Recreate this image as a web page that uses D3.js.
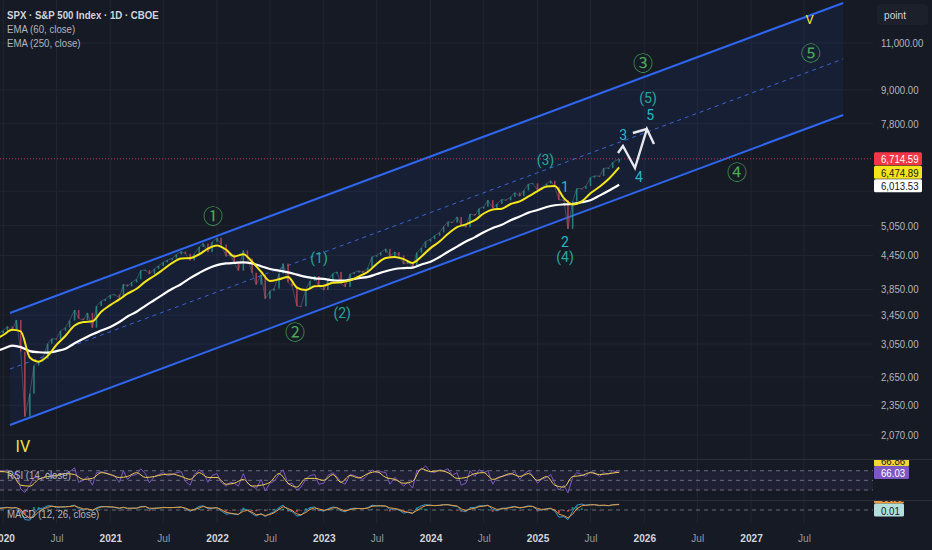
<!DOCTYPE html>
<html>
<head>
<meta charset="utf-8">
<script src="https://cdn.jsdelivr.net/npm/d3@7"></script>
<style>
  html, body { margin: 0; padding: 0; background: #161a25; overflow: hidden; }
  svg { display: block; font-family: "Liberation Sans", Arial, sans-serif; }
</style>
</head>
<body>
<svg id="chart"></svg>
<script>
// ---- data ----

// semi-monthly closes: 2019-12-16, then 1st & 15th of each month 2020-01 .. 2025-09, last 2025-10-07
let closes = [
  3191,
  3231, 3289, 3225, 3380, 2954, 2240, 2470, 2783, 2830, 2863, 3055, 3120,
  3115, 3226, 3271, 3372, 3526, 3401, 3380, 3483, 3270, 3585, 3662, 3694,
  3756, 3768, 3714, 3934, 3901, 3968, 4019, 4170, 4181, 4112, 4202, 4255,
  4320, 4360, 4395, 4468, 4524, 4480, 4357, 4471, 4613, 4682, 4513, 4709,
  4796, 4662, 4432, 4471, 4306, 4170, 4545, 4392, 4131, 3930, 4101, 3700,
  3825, 3863, 4118, 4297, 3966, 3901, 3585, 3583, 3856, 3991, 4076, 3895,
  3839, 3999, 4119, 4147, 3951, 3891, 4109, 4137, 4167, 4136, 4221, 4425,
  4450, 4505, 4576, 4437, 4515, 4450, 4288, 4327, 4237, 4502, 4594, 4719,
  4770, 4840, 4906, 5030, 5137, 5117, 5243, 5061, 5018, 5308, 5278, 5431,
  5475, 5631, 5446, 5543, 5648, 5626, 5708, 5815, 5728, 5870, 6032, 6051,
  5882, 5949, 6040, 6115, 5954, 5638, 5633, 4982, 5604, 5916, 5912, 5977,
  6198, 6243, 6238, 6449, 6460, 6615,
  6714.59
];

let rsi = [
  70,
  68, 72, 52, 68, 32, 25, 40, 56, 55, 52, 66, 55,
  58, 62, 64, 68, 76, 46, 50, 58, 40, 66, 68, 66,
  62, 60, 46, 70, 52, 60, 62, 74, 64, 45, 58, 62,
  66, 60, 62, 66, 68, 48, 40, 62, 72, 66, 46, 60,
  64, 46, 38, 46, 44, 38, 64, 44, 38, 33, 52, 28,
  44, 48, 62, 72, 42, 44, 30, 36, 52, 60, 62, 42,
  44, 60, 66, 58, 46, 42, 62, 60, 56, 52, 62, 72,
  66, 68, 66, 42, 56, 48, 38, 46, 34, 70, 72, 80,
  68, 66, 72, 70, 74, 60, 66, 40, 44, 70, 58, 72,
  66, 70, 42, 56, 58, 60, 62, 68, 52, 62, 70, 60,
  44, 52, 56, 62, 44, 30, 40, 24, 56, 66, 62, 58,
  68, 66, 58, 66, 62, 70,
  66.03
];

let macd = [
  30,
  40, 45, 30, 40, -30, -160, -170, -60, 20, 30, 70, 70,
  40, 50, 55, 60, 80, 20, 0, 20, -20, 40, 60, 55,
  50, 45, 20, 50, 20, 30, 30, 60, 60, 10, 30, 35,
  45, 40, 40, 45, 50, 20, -20, 10, 60, 70, 20, 30,
  40, -10, -70, -60, -70, -80, 20, 0, -60, -100, -60, -110,
  -60, -30, 40, 80, 0, -30, -100, -90, -10, 40, 50, 0,
  -20, 20, 50, 40, -10, -30, 20, 30, 25, 20, 40, 80,
  70, 70, 65, 10, 20, 0, -50, -40, -60, 30, 70, 90,
  80, 70, 80, 90, 90, 70, 60, -10, -30, 40, 40, 70,
  70, 80, 10, -10, 30, 30, 50, 60, 30, 50, 70, 60,
  0, 0, 20, 30, -20, -120, -110, -160, -20, 80, 100, 80,
  90, 90, 70, 80, 70, 90,
  95
];

let signal = [
  25,
  32, 40, 36, 38, 10, -80, -140, -110, -30, 10, 45, 62,
  55, 50, 52, 58, 70, 45, 18, 18, 0, 25, 50, 55,
  52, 48, 32, 42, 30, 30, 30, 48, 56, 30, 28, 32,
  40, 40, 40, 43, 47, 32, 0, 2, 35, 60, 38, 32,
  36, 10, -40, -52, -62, -72, -20, -8, -38, -78, -70, -92,
  -75, -48, 10, 55, 25, -10, -65, -80, -40, 10, 35, 18,
  -5, 5, 35, 38, 10, -15, 5, 22, 24, 22, 32, 62,
  68, 70, 66, 35, 25, 10, -25, -35, -50, -10, 40, 72,
  78, 74, 77, 85, 88, 78, 66, 20, -10, 15, 30, 55,
  65, 75, 40, 10, 20, 26, 40, 52, 40, 45, 60, 60,
  25, 10, 15, 25, 0, -70, -95, -130, -70, 20, 70, 78,
  85, 88, 78, 80, 74, 84,
  90
];

// monthly (1st of month) 2019-12 .. 2025-09, last 2025-10-07
let ema60 = [
  3100,
  3170, 3240, 3220, 2880, 2830, 2900, 3040, 3160, 3300, 3350, 3360, 3500,
  3600, 3690, 3780, 3860, 3980, 4080, 4190, 4310, 4390, 4400, 4470, 4580,
  4640, 4560, 4430, 4470, 4330, 4150, 3990, 4020, 4060, 3880, 3840, 3900,
  3910, 3960, 3970, 4000, 4070, 4150, 4290, 4400, 4420, 4380, 4310, 4430,
  4590, 4720, 4880, 5020, 5080, 5170, 5320, 5410, 5430, 5540, 5600, 5720,
  5850, 5970, 5980, 5680, 5530, 5600, 5800, 5960, 6160,
  6474.89
];

let ema250 = [
  2950,
  2990, 3030, 3010, 2960, 2945, 2940, 2960, 2990, 3060, 3120, 3180, 3230,
  3280, 3350, 3430, 3500, 3590, 3680, 3770, 3860, 3940, 4040, 4130, 4210,
  4270, 4300, 4310, 4320, 4300, 4250, 4200, 4170, 4140, 4100, 4060, 4035,
  4026, 4000, 3995, 4010, 4040, 4060, 4110, 4160, 4200, 4215, 4225, 4280,
  4330, 4420, 4520, 4620, 4720, 4810, 4910, 5000, 5070, 5170, 5250, 5340,
  5400, 5470, 5510, 5530, 5540, 5580, 5630, 5740, 5860,
  6013.53
];

let rsiMA = [
  68,
  68, 62, 40, 38, 52, 58, 60, 64, 62, 52, 54, 66,
  62, 56, 58, 66, 56, 58, 62, 63, 58, 52, 66, 56,
  56, 42, 44, 52, 38, 40, 46, 64, 44, 36, 54, 54,
  50, 62, 46, 60, 55, 64, 68, 56, 52, 44, 48, 74,
  68, 70, 66, 54, 56, 64, 66, 52, 58, 64, 58, 64,
  50, 58, 40, 36, 58, 60, 66, 62, 64,
  66.86
];

// price channel (two anchor points)
let channelDates = ['2020-01-24', '2027-11-12'];
let channelUpper = [3482, 13044];
let channelMid = [2742, 10275];
let channelLower = [2160, 8094];

// projected path (white zigzag)
let projDates = ['2025-10-03', '2025-10-20', '2025-11-30', '2026-01-10', '2026-02-03'];
let projPrices = [6884, 7093, 6458, 7625, 7153];
let projWingDates = ['2025-11-23', '2026-01-10'];
let projWingPrices = [7497, 7625];

// Elliott wave labels
let waveText = ['\u2460', '\u2461', '\u2462', '\u2463', '\u2464',
                '(1)', '(2)', '(3)', '(4)', '(5)',
                '1', '2', '3', '4', '5', 'IV', 'V'];
let waveDates = ['2021-12-18', '2022-09-25', '2025-12-28', '2026-11-14', '2027-07-24',
                 '2022-12-16', '2023-03-05', '2025-01-28', '2025-04-05', '2026-01-14',
                 '2025-04-05', '2025-04-05', '2025-10-21', '2025-12-14', '2026-01-21',
                 '2020-03-08', '2027-07-20'];
let wavePrices = [5285, 3224, 10101, 6349, 10541,
                  4401, 3482, 6683, 4420, 8702,
                  5955, 4711, 7433, 6215, 8094,
                  1975, 12133];
let waveDegree = ['primary', 'primary', 'primary', 'primary', 'primary',
                  'intermediate', 'intermediate', 'intermediate', 'intermediate', 'intermediate',
                  'minor', 'minor', 'minor', 'minor', 'minor',
                  'cycle', 'cycle'];

// axes
let yTicks = [2070, 2350, 2650, 3050, 3450, 3850, 4450, 5050, 7800, 9000, 11000];
let yGridExtra = [5850];
let xTicks = ['2020-01-01', '2020-07-01', '2021-01-01', '2021-07-01', '2022-01-01', '2022-07-01',
              '2023-01-01', '2023-07-01', '2024-01-01', '2024-07-01', '2025-01-01', '2025-07-01',
              '2026-01-01', '2026-07-01', '2027-01-01', '2027-07-01'];

let macdReadout = ['0.01'];

// ---- layout ----
let width = 932;
let height = 550;
let plotRight = 873;
let mainBottom = 459;
let rsiTop = 460, rsiBottom = 500;
let macdTop = 501, macdBottom = 523;
let uiSize = '10.5px';
let squeeze = 0.92; // narrow look of the original UI font

const parse = d3.timeParse('%Y-%m-%d');
const fmt = d3.format(',.2f');

let svg = d3.select('#chart').attr('width', width).attr('height', height);

let xScale, yScale, rsiScale, macdScale;

// squeeze text horizontally
const condense = (sel, k) => sel.each(function () {
  let len = this.getComputedTextLength();
  d3.select(this).attr('textLength', len * k).attr('lengthAdjust', 'spacingAndGlyphs');
});

// date grids for the series
const halfMonthGrid = () => {
  let out = [new Date(2019, 11, 16)];
  for (let m = new Date(2020, 0, 1); m < new Date(2025, 9, 1); m = d3.timeMonth.offset(m, 1)) {
    out.push(new Date(m.getFullYear(), m.getMonth(), 1));
    out.push(new Date(m.getFullYear(), m.getMonth(), 15));
  }
  out.push(new Date(2025, 9, 7));
  return out;
};

const monthGrid = () => {
  let out = d3.timeMonth.range(new Date(2019, 11, 1), new Date(2025, 9, 1));
  out.push(new Date(2025, 9, 7));
  return out;
};

let halfDates = halfMonthGrid();
let monthDates = monthGrid();

const generateScales = () => {
  xScale = d3.scaleTime()
             .domain([parse('2019-12-21'), parse('2028-02-22')])
             .range([0, plotRight]);
  yScale = d3.scaleLog()
             .domain([1869, 13211])
             .range([mainBottom, 0]);
  rsiScale = d3.scaleLinear()
               .domain([30, 70])
               .range([490, 470.7]);
  macdScale = d3.scaleLinear()
                .domain([-200, 150])
                .range([522, 501]);
};

const drawCanvas = () => {
  svg.append('rect').attr('width', width).attr('height', height).attr('fill', '#161a25');
  let defs = svg.append('defs');
  const addClip = (id, top, bottom) => {
    defs.append('clipPath').attr('id', id).append('rect')
        .attr('x', 0).attr('y', top).attr('width', width).attr('height', bottom - top);
  };
  addClip('clipMain', 0, mainBottom);
  addClip('clipRsi', rsiTop, rsiBottom);
  addClip('clipMacd', macdTop, macdBottom);
};

const drawGrid = () => {
  let g = svg.append('g').attr('class', 'grid');
  g.selectAll('.hgrid')
   .data(yTicks.concat(yGridExtra))
   .enter()
   .append('line')
   .attr('x1', 0).attr('x2', plotRight)
   .attr('y1', d => yScale(d)).attr('y2', d => yScale(d))
   .attr('stroke', '#222633').attr('stroke-width', 1);
  g.selectAll('.vgrid')
   .data(xTicks)
   .enter()
   .append('line')
   .attr('x1', d => xScale(parse(d))).attr('x2', d => xScale(parse(d)))
   .attr('y1', 0).attr('y2', macdBottom)
   .attr('stroke', '#222633').attr('stroke-width', 1);
};

const drawChannel = () => {
  let chan = channelDates.map((d, i) => ({
    date: parse(d), upper: channelUpper[i], mid: channelMid[i], lower: channelLower[i]
  }));
  let g = svg.append('g').attr('clip-path', 'url(#clipMain)');

  g.append('path')
   .datum(chan)
   .attr('d', d3.area().x(d => xScale(d.date)).y0(d => yScale(d.lower)).y1(d => yScale(d.upper)))
   .attr('fill', 'rgba(41, 98, 255, 0.07)');

  const line = key => d3.line().x(d => xScale(d.date)).y(d => yScale(d[key]));
  g.append('path').datum(chan).attr('d', line('upper'))
   .attr('fill', 'none').attr('stroke', '#2f66f0').attr('stroke-width', 2);
  g.append('path').datum(chan).attr('d', line('lower'))
   .attr('fill', 'none').attr('stroke', '#2f66f0').attr('stroke-width', 2);
  g.append('path').datum(chan).attr('d', line('mid'))
   .attr('fill', 'none').attr('stroke', '#3a63d8').attr('stroke-width', 1)
   .attr('stroke-dasharray', '4,4');
};

const drawPrice = () => {
  let last = closes[closes.length - 1];
  let g = svg.append('g').attr('clip-path', 'url(#clipMain)');

  // dotted last price line
  g.append('line')
   .attr('x1', 0).attr('x2', plotRight)
   .attr('y1', yScale(last)).attr('y2', yScale(last))
   .attr('stroke', '#c2385a').attr('stroke-width', 1)
   .attr('stroke-dasharray', '1,2');

  let bars = closes.map((c, i) => ({
    date: halfDates[i], open: i === 0 ? c : closes[i - 1], close: c
  }));

  g.append('path')
   .datum(bars)
   .attr('d', d3.line().x(d => xScale(d.date)).y(d => yScale(d.close)))
   .attr('fill', 'none').attr('stroke', '#4d6470').attr('stroke-width', 1).attr('opacity', 0.7);

  g.selectAll('.candle')
   .data(bars)
   .enter()
   .append('rect')
   .attr('x', d => xScale(d.date) - 0.8)
   .attr('width', 1.6)
   .attr('y', d => yScale(Math.max(d.open, d.close)))
   .attr('height', d => Math.max(1, Math.abs(yScale(d.open) - yScale(d.close))))
   .attr('fill', d => d.close >= d.open ? '#2a9d8f' : '#d9455a')
   .attr('opacity', 0.75);
};

const drawEmas = () => {
  let g = svg.append('g').attr('clip-path', 'url(#clipMain)');
  const emaLine = d3.line()
                    .x((d, i) => xScale(monthDates[i]))
                    .y(d => yScale(d))
                    .curve(d3.curveMonotoneX);
  g.append('path').datum(ema250).attr('d', emaLine)
   .attr('fill', 'none').attr('stroke', '#ffffff').attr('stroke-width', 2.2);
  g.append('path').datum(ema60).attr('d', emaLine)
   .attr('fill', 'none').attr('stroke', '#f5e51b').attr('stroke-width', 2);
};

const drawProjection = () => {
  let g = svg.append('g').attr('clip-path', 'url(#clipMain)');
  const pline = d3.line().x(d => xScale(parse(d[0]))).y(d => yScale(d[1]));
  g.append('path')
   .datum(projDates.map((d, i) => [d, projPrices[i]]))
   .attr('d', pline)
   .attr('fill', 'none').attr('stroke', '#e6e8ee').attr('stroke-width', 2.4)
   .attr('stroke-linejoin', 'miter');
  g.append('path')
   .datum(projWingDates.map((d, i) => [d, projWingPrices[i]]))
   .attr('d', pline)
   .attr('fill', 'none').attr('stroke', '#e6e8ee').attr('stroke-width', 2.4);
};

const drawWaves = () => {
  let colors = { primary: '#48a85a', intermediate: '#26a69a', minor: '#26b7cc', cycle: '#f2e33a' };
  let sizes = { primary: 20, intermediate: 14, minor: 14, cycle: 16 };
  let fonts = {
    primary: '"Noto Sans CJK JP", "DejaVu Sans", sans-serif',
    intermediate: 'Roboto, "Noto Sans", sans-serif',
    minor: 'Roboto, "Noto Sans", sans-serif',
    cycle: 'Roboto, "Noto Sans", sans-serif'
  };
  let g = svg.append('g').attr('clip-path', 'url(#clipMain)');
  g.selectAll('.wave')
   .data(waveText)
   .enter()
   .append('text')
   .attr('x', (d, i) => xScale(parse(waveDates[i])))
   .attr('y', (d, i) => yScale(wavePrices[i]))
   .attr('text-anchor', 'middle')
   .attr('dominant-baseline', 'central')
   .attr('font-family', (d, i) => fonts[waveDegree[i]])
   .attr('font-size', (d, i) => (d === 'V' ? 13 : sizes[waveDegree[i]]) + 'px')
   .attr('fill', (d, i) => colors[waveDegree[i]])
   .text(d => d);
};

const drawLowerPanes = () => {
  // separators
  [rsiTop - 0.5, macdTop - 0.5].forEach(y => {
    svg.append('line').attr('x1', 0).attr('x2', width).attr('y1', y).attr('y2', y)
       .attr('stroke', '#2a2e39').attr('stroke-width', 1);
  });

  // RSI pane
  let r = svg.append('g').attr('clip-path', 'url(#clipRsi)');
  r.append('rect')
   .attr('x', 0).attr('width', plotRight)
   .attr('y', rsiScale(70)).attr('height', rsiScale(30) - rsiScale(70))
   .attr('fill', 'rgba(126, 87, 194, 0.1)');
  [70, 50, 30].forEach(v => {
    r.append('line').attr('x1', 0).attr('x2', plotRight)
     .attr('y1', rsiScale(v)).attr('y2', rsiScale(v))
     .attr('stroke', '#6a6d78').attr('stroke-width', 1).attr('stroke-dasharray', '4,4');
  });
  r.append('path').datum(rsi)
   .attr('d', d3.line().x((d, i) => xScale(halfDates[i])).y(d => rsiScale(d)))
   .attr('fill', 'none').attr('stroke', '#7e57c2').attr('stroke-width', 1);
  r.append('path').datum(rsiMA)
   .attr('d', d3.line().x((d, i) => xScale(monthDates[i])).y(d => rsiScale(d)).curve(d3.curveMonotoneX))
   .attr('fill', 'none').attr('stroke', '#f0cf4a').attr('stroke-width', 1);

  // MACD pane
  let m = svg.append('g').attr('clip-path', 'url(#clipMacd)');
  m.append('line').attr('x1', 0).attr('x2', plotRight)
   .attr('y1', macdScale(0)).attr('y2', macdScale(0))
   .attr('stroke', '#6a6d78').attr('stroke-width', 1).attr('stroke-dasharray', '4,4');
  m.selectAll('.hist')
   .data(macd)
   .enter()
   .append('rect')
   .attr('x', (d, i) => xScale(halfDates[i]) - 1)
   .attr('width', 2)
   .attr('y', (d, i) => Math.min(macdScale(0), macdScale(d - signal[i])))
   .attr('height', (d, i) => Math.abs(macdScale(0) - macdScale(d - signal[i])))
   .attr('fill', (d, i) => d - signal[i] >= 0 ? '#26a69a' : '#ff5252')
   .attr('opacity', 0.7);
  m.append('path').datum(macd)
   .attr('d', d3.line().x((d, i) => xScale(halfDates[i])).y(d => macdScale(d)))
   .attr('fill', 'none').attr('stroke', '#2f9bd8').attr('stroke-width', 1);
  m.append('path').datum(signal)
   .attr('d', d3.line().x((d, i) => xScale(halfDates[i])).y(d => macdScale(d)))
   .attr('fill', 'none').attr('stroke', '#f09a3a').attr('stroke-width', 1);

  // pane legends
  svg.append('text').attr('x', 7).attr('y', 479)
     .attr('font-size', uiSize).attr('fill', '#b2b5be').text('RSI (14, close)')
     .call(condense, squeeze);
  svg.append('text').attr('x', 7).attr('y', 518)
     .attr('font-size', uiSize).attr('fill', '#b2b5be').text('MACD (12, 26, close)')
     .call(condense, squeeze);
};

const generateAxes = () => {
  let yAxis = d3.axisRight(yScale)
                .tickValues(yTicks)
                .tickSize(0)
                .tickPadding(8)
                .tickFormat(fmt);
  let ya = svg.append('g')
              .attr('id', 'y-axis')
              .attr('transform', `translate(${plotRight}, 0)`)
              .call(yAxis);
  ya.select('.domain').remove();
  ya.selectAll('text')
    .attr('font-size', uiSize)
    .attr('font-family', '"Liberation Sans", Arial, sans-serif')
    .attr('fill', '#b2b5be')
    .call(condense, squeeze);

  let xAxis = d3.axisBottom(xScale)
                .tickValues(xTicks.map(parse))
                .tickSize(0)
                .tickPadding(12)
                .tickFormat(d => d.getMonth() === 0 ? d3.timeFormat('%Y')(d) : d3.timeFormat('%b')(d));
  let xa = svg.append('g')
              .attr('id', 'x-axis')
              .attr('transform', `translate(0, ${macdBottom - 1})`)
              .call(xAxis);
  xa.select('.domain').remove();
  xa.selectAll('text')
    .attr('font-size', '11px')
    .attr('font-family', '"Liberation Sans", Arial, sans-serif')
    .attr('font-weight', d => d.getMonth() === 0 ? 'bold' : 'normal')
    .attr('fill', d => d.getMonth() === 0 ? '#d1d4dc' : '#9598a1')
    .call(condense, squeeze);
};

const drawTag = (parent, y, text, fill, color, w) => {
  parent.append('rect')
        .attr('x', plotRight + 1).attr('y', y - 6.5).attr('width', w).attr('height', 13)
        .attr('rx', 1.5).attr('fill', fill);
  parent.append('text')
        .attr('x', plotRight + 8).attr('y', y + 0.5)
        .attr('dominant-baseline', 'central')
        .attr('font-size', uiSize).attr('fill', color)
        .text(text)
        .call(condense, squeeze);
};

const drawTags = () => {
  let tags = [
    { value: closes[closes.length - 1], fill: '#f23645', color: '#ffffff' },
    { value: ema60[ema60.length - 1], fill: '#f5e51b', color: '#131722' },
    { value: ema250[ema250.length - 1], fill: '#ffffff', color: '#131722' }
  ];
  let prev = -Infinity;
  let g = svg.append('g').attr('clip-path', 'url(#clipMain)');
  tags.forEach(t => {
    let y = Math.max(yScale(t.value), prev + 13.5);
    prev = y;
    drawTag(g, y, fmt(t.value), t.fill, t.color, 48);
  });

  let r = svg.append('g').attr('clip-path', 'url(#clipRsi)');
  let rsiLast = rsi[rsi.length - 1];
  drawTag(r, rsiScale(rsiLast) - 12.5, d3.format('.2f')(rsiMA[rsiMA.length - 1]), '#f5d538', '#131722', 35);
  drawTag(r, rsiScale(rsiLast), d3.format('.2f')(rsiLast), '#7e57c2', '#ffffff', 35);

  let m = svg.append('g').attr('clip-path', 'url(#clipMacd)');
  drawTag(m, macdScale(0) - 13, d3.format('.2f')(signal[signal.length - 1]), '#f09a3a', '#131722', 30);
  drawTag(m, macdScale(0), macdReadout[0], '#b2dfdb', '#131722', 30);
};

const drawLegend = () => {
  let g = svg.append('g');
  g.append('text').attr('x', 7).attr('y', 19)
   .attr('font-size', uiSize).attr('font-weight', 'bold').attr('fill', '#d1d4dc')
   .text('SPX \u00b7 S&P 500 Index \u00b7 1D \u00b7 CBOE')
   .call(condense, squeeze);
  g.append('text').attr('x', 7).attr('y', 33)
   .attr('font-size', uiSize).attr('fill', '#b2b5be').text('EMA (60, close)')
   .call(condense, squeeze);
  g.append('text').attr('x', 7).attr('y', 47)
   .attr('font-size', uiSize).attr('fill', '#b2b5be').text('EMA (250, close)')
   .call(condense, squeeze);

  g.append('rect').attr('x', 877).attr('y', 4).attr('width', 51).attr('height', 21)
   .attr('rx', 4).attr('fill', '#1c202b');
  g.append('text').attr('x', 884).attr('y', 18.5)
   .attr('font-size', '11px').attr('fill', '#d1d4dc').text('point')
   .call(condense, squeeze);
};

generateScales();
drawCanvas();
drawGrid();
drawChannel();
drawPrice();
drawEmas();
drawProjection();
drawWaves();
drawLowerPanes();
generateAxes();
drawTags();
drawLegend();
</script>
</body>
</html>
